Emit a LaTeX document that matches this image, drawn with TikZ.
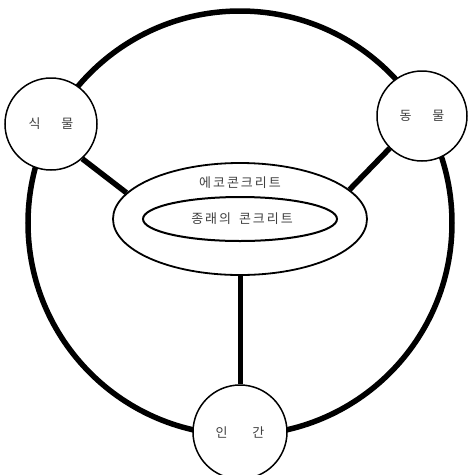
\documentclass[tikz,border=0pt]{standalone}
\usepackage{fontspec}
\newfontfamily\kr{Noto Sans CJK KR}
\newfontfamily\krsp[LetterSpace=15]{Noto Sans CJK KR}
\usetikzlibrary{shapes.geometric}
\tikzset{
  thickline/.style={line width=5.5pt},
  roundnode/.style={circle, draw, line width=1.5pt, fill=white, inner sep=0pt, font=\kr\fontsize{13pt}{15pt}\selectfont, text=black!75},
  ringshape/.style={ellipse, draw, line width=1.8pt, fill=white, inner sep=0pt},
  label text/.style={font=\krsp\fontsize{13pt}{15pt}\selectfont, text=black!75, inner sep=0pt}
}
\begin{document}
\begin{tikzpicture}[x=1pt,y=-1pt]
\useasboundingbox (0,0) rectangle (467,475);
\fill[white] (0,0) rectangle (467,475);
\node[circle, minimum size=424pt, inner sep=0pt] (big) at (240,223) {};
\draw[thickline] (big.center) circle[radius=212pt];
\node[ringshape, minimum width=254pt, minimum height=112pt] (eco) at (240,219) {};
\node[ringshape, line width=2pt, minimum width=194pt, minimum height=44pt] (conv) at (240,219) {};
\node[label text] (ecotext) at (240,183) {에코콘크리트};
\node[label text] (convtext) at (242,219) {종래의\hspace{8pt}콘크리트};
\node[roundnode, minimum size=92pt] (plant) at (51,124) {식\hspace{21pt}물};
\node[roundnode, minimum size=90pt] (animal) at (422,116) {동\hspace{21pt}물};
\node[roundnode, minimum size=94pt] (human) at (240,432) {인\hspace{25pt}간};
\draw[thickline] (plant.-48) -- (eco.167);
\draw[thickline] (animal.225) -- (eco.15);
\draw[thickline, line width=5pt] (eco.south) -- (human.north);
\end{tikzpicture}
\end{document}
